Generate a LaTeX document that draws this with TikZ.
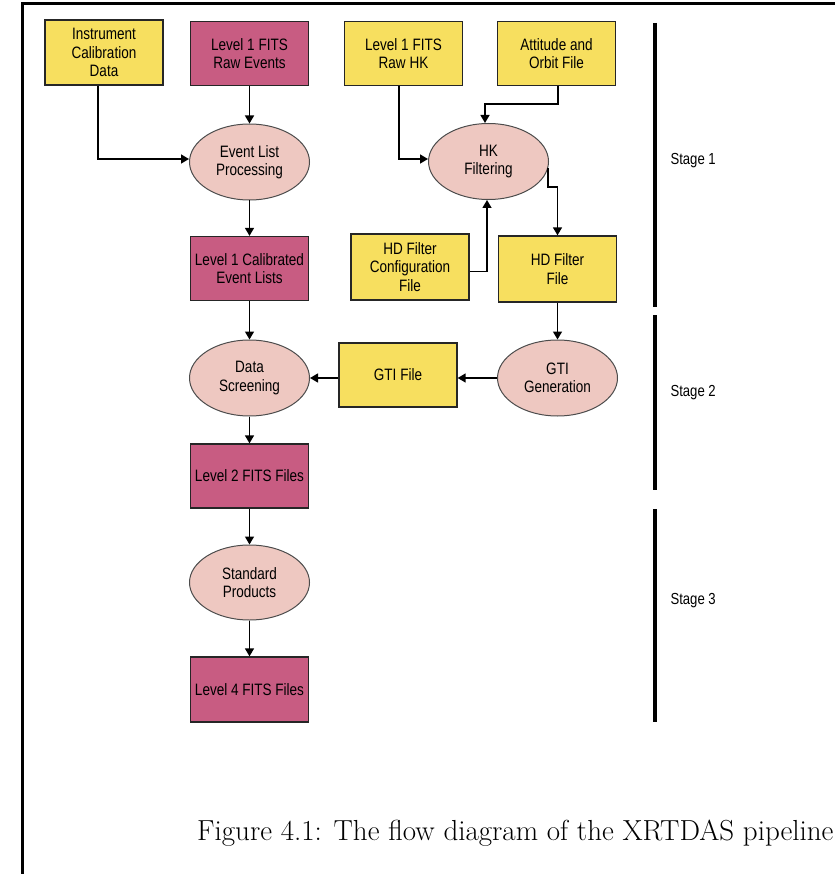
\documentclass[tikz,border=0pt]{standalone}
\usepackage{fontspec}
\setsansfont[FakeStretch=0.82]{Liberation Sans}
\usetikzlibrary{shapes.geometric,arrows.meta}
\definecolor{fileyellow}{HTML}{F7DF5F}
\definecolor{filemagenta}{HTML}{C85C82}
\definecolor{procpink}{HTML}{EEC8C1}
\begin{document}
\begin{tikzpicture}[x=1pt,y=-1pt,
  every node/.style={font=\sffamily\fontsize{16.5}{18.5}\selectfont, align=center, text=black},
  filebox/.style={rectangle, draw=black!85, line width=1.3pt, minimum width=118pt, minimum height=64pt, inner sep=0pt},
  ybox/.style={filebox, fill=fileyellow},
  mbox/.style={filebox, fill=filemagenta},
  proc/.style={ellipse, draw=black!70, line width=1pt, fill=procpink, minimum width=120pt, minimum height=76pt, inner sep=0pt},
  conn/.style={draw=black, line width=1.4pt, -{Triangle[length=8pt,width=9pt]}},
  stageline/.style={line width=4pt, black},
  stagelabel/.style={anchor=west, font=\sffamily\fontsize{16}{18}\selectfont}
]
\useasboundingbox (0,0) rectangle (835,874);
% frame
\draw[line width=3pt] (22,874) -- (22,4) -- (835,4);

% nodes
\node[ybox, minimum height=65pt] (inst) at (104,52.5) {Instrument\\Calibration\\Data};
\node[mbox] (rawev) at (249.5,53.5) {Level 1 FITS\\Raw Events};
\node[ybox] (rawhk) at (403.5,53.5) {Level 1 FITS\\Raw HK};
\node[ybox] (att) at (556.5,53.5) {Attitude and\\Orbit File};
\node[proc] (elp) at (249.5,162) {Event List\\Processing};
\node[proc] (hk) at (488.5,161.5) {HK\\Filtering};
\node[mbox] (l1cal) at (249.5,268.5) {Level 1 Calibrated\\Event Lists};
\node[ybox, minimum height=66pt] (hdcfg) at (410,267) {HD Filter\\Configuration\\File};
\node[ybox, minimum height=66pt] (hdf) at (557.5,269) {HD Filter\\File};
\node[proc] (ds) at (249.5,378) {Data\\Screening};
\node[ybox] (gti) at (398,375) {GTI File};
\node[proc] (gtig) at (557.5,378) {GTI\\Generation};
\node[mbox] (l2) at (249.5,476) {Level 2 FITS Files};
\node[proc, minimum height=75pt] (sp) at (249.5,582.5) {Standard\\Products};
\node[mbox, minimum height=65pt] (l4) at (249.5,689.5) {Level 4 FITS Files};

% connectors
\draw[conn] ([xshift=-6pt]inst.south) |- ([yshift=3pt]elp.west);
\draw[conn] (rawev.south) -- (elp.north);
\draw[conn] ([xshift=-4.5pt]rawhk.south) |- ([yshift=2.5pt]hk.west);
\coordinate (attbend) at (558,104);
\draw[conn] ([xshift=1.5pt]att.south) -- (attbend) -| ([xshift=-3.5pt]hk.north);
\coordinate (hkbend) at (548,187);
\draw[conn] ([xshift=-1pt,yshift=-6.5pt]hk.east) -- (hkbend) -| (hdf.north);
\draw[conn] ([yshift=-4.7pt]hdcfg.east) -| ([xshift=-1.5pt]hk.south);
\draw[conn] (elp.south) -- (l1cal.north);
\draw[conn] (l1cal.south) -- (ds.north);
\draw[conn] (hdf.south) -- (gtig.north);
\draw[conn] (gtig.west) -- (gtig.west -| gti.east);
\draw[conn] (gti.west |- ds.east) -- (ds.east);
\draw[conn] (ds.south) -- (l2.north);
\draw[conn] (l2.south) -- (sp.north);
\draw[conn] (sp.south) -- (l4.north);

% stages
\draw[stageline] (654.5,23) -- (654.5,307);
\draw[stageline] (654.5,315) -- (654.5,490);
\draw[stageline] (654.5,509) -- (654.5,722);
\node[stagelabel] (s1) at (667,161) {Stage 1};
\node[stagelabel] (s2) at (667,393) {Stage 2};
\node[stagelabel] (s3) at (667,601) {Stage 3};

% caption
\node[anchor=base west, font=\rmfamily\fontsize{29}{34}\selectfont, inner sep=0pt, text=black] (cap) at (197,840) {Figure 4.1: The flow diagram of the XRTDAS pipeline};
\end{tikzpicture}
\end{document}
